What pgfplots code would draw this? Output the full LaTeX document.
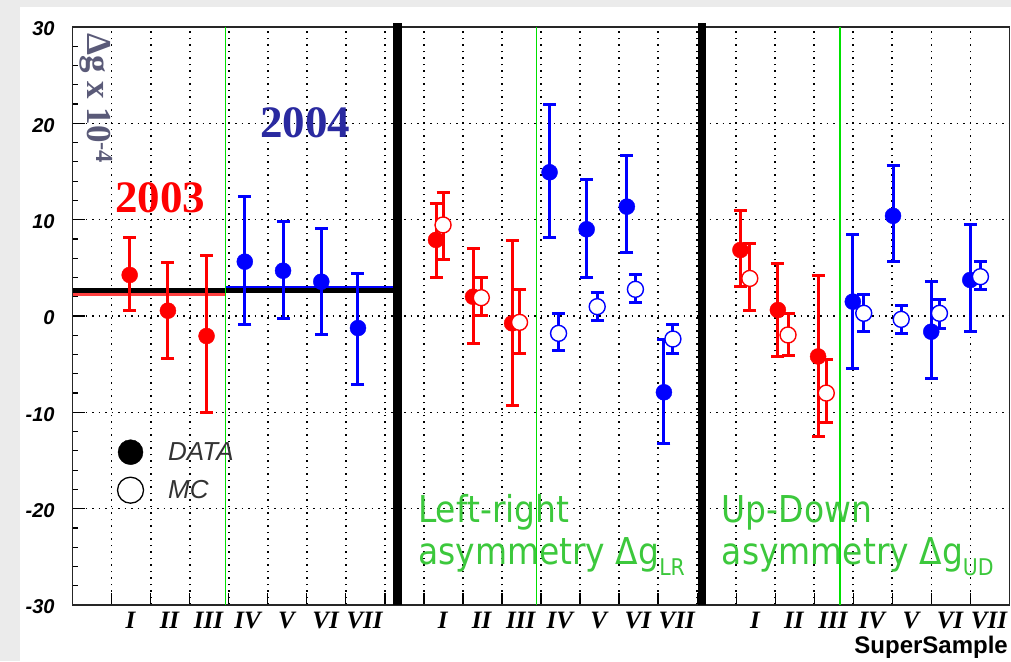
\documentclass[border=0pt]{standalone}
\usepackage{fontspec}
\usepackage{pgfplots}
\pgfplotsset{compat=1.18}
\setmainfont{Liberation Serif}
\newfontfamily\arialf{Liberation Sans}
\newfontfamily\serf{Liberation Serif}
\newfontfamily\dejav{DejaVu Sans}
\definecolor{rred}{RGB}{255,0,0}
\definecolor{rblue}{RGB}{0,0,255}
\definecolor{rgreen}{RGB}{0,225,0}
\definecolor{txtgreen}{RGB}{60,200,60}
\definecolor{navyfour}{RGB}{42,42,160}
\definecolor{labgray}{RGB}{90,90,120}

\pgfplotsset{
  dat/.style={only marks, mark=*, mark size=8pt, color=#1, forget plot,
    error bars/.cd, y dir=both, y explicit,
    error bar style={line width=3pt, color=#1},
    error mark options={rotate=90, mark size=6.5pt, line width=3pt, color=#1}},
  mc/.style={only marks, mark=*, mark size=8pt, color=#1, forget plot,
    mark options={fill=white, draw=#1, line width=1.4pt},
    error bars/.cd, y dir=both, y explicit,
    error bar style={line width=3pt, color=#1},
    error mark options={rotate=90, mark size=6.5pt, line width=3pt, color=#1}},
}

\begin{document}
\begin{tikzpicture}[x=1pt,y=1pt]
\fill[black!8] (0,0) rectangle (1011,661);
\fill[white] (20,0) rectangle (1011,654);

\begin{axis}[
  at={(72.7pt,56pt)}, anchor=south west,
  scale only axis, width=936.6pt, height=578pt,
  xmin=0, xmax=24, ymin=-30, ymax=30,
  clip=false,
  axis line style={line width=1.5pt, black!85},
  xtick={1,2,...,23}, xticklabels={},
  extra x ticks={1.48,2.48,3.48,4.48,5.48,6.48,7.48,9.48,10.48,11.48,12.48,13.48,14.48,15.48,17.48,18.48,19.48,20.48,21.48,22.48,23.48},
  extra x tick labels={I,II,III,IV,V,VI,VII,I,II,III,IV,V,VI,VII,I,II,III,IV,V,VI,VII},
  extra x tick style={grid=none, tick style={draw=none}},
  xticklabel style={font=\serf\bfseries\itshape\fontsize{25}{25}\selectfont, anchor=north, inner sep=0pt, yshift=-7pt},
  ytick={-30,-20,...,30}, yticklabels={-30,-20,-10,0,10,20,30},
  yticklabel style={font=\arialf\bfseries\itshape\fontsize{20}{20}\selectfont, anchor=east, inner sep=0pt, xshift=-18pt, yshift=-2pt},
  minor y tick num=4,
  tick align=inside, xtick pos=bottom, ytick pos=left,
  major tick length=12pt, minor tick length=5pt,
  tick style={line width=1.2pt, black},
  xmajorgrids=true, ymajorgrids=true,
  grid style={line width=1.5pt, black, dash pattern=on 1.5pt off 5pt},
  legend style={at={(axis cs:1.14,-12.82)}, anchor=north west, draw=none, fill=none,
    inner sep=0pt, row sep=12.5pt, font=\arialf\itshape\fontsize{26}{26}\selectfont,
    nodes={inner sep=0pt, text=black!80}},
  legend cell align=left,
  legend image code/.code={\draw[#1] plot coordinates {(12.5pt,0pt)}; \path (0pt,0pt) (49.5pt,0pt);},
]
\addlegendimage{mark=*, black, mark size=12.5pt}
\addlegendentry{DATA}
\addlegendimage{mark=o, black, mark size=13pt, line width=1.3pt}
\addlegendentry{MC}

% mean lines, panel 1
\addplot[red!75, line width=2.7pt, forget plot] coordinates {(0,2.21) (3.92,2.21)};
\addplot[rblue, line width=2.7pt, forget plot] coordinates {(3.92,2.98) (8.32,2.98)};
\addplot[black, line width=4.3pt, forget plot] coordinates {(0,2.65) (8.32,2.65)};

% year separators
\addplot[rgreen, line width=1.5pt, forget plot] coordinates {(3.92,-30) (3.92,30)};
\addplot[rgreen, line width=1.5pt, forget plot] coordinates {(11.88,-30) (11.88,30)};
\addplot[rgreen, line width=1.5pt, forget plot] coordinates {(19.66,-30) (19.66,30)};

% panel separators
\addplot[black, line width=8.5pt, forget plot] coordinates {(8.32,-30) (8.32,30.4)};
\addplot[black, line width=8.5pt, forget plot] coordinates {(16.13,-30) (16.13,30.4)};

% Delta g, 2003 data
\addplot[dat=rred] coordinates {
  (1.46,4.26) += (0,3.91) -= (0,3.64)
  (2.44,0.55) += (0,4.98) -= (0,5.01)
  (3.43,-2.08) += (0,8.34) -= (0,7.96)
};
% Delta g, 2004 data
\addplot[dat=rblue] coordinates {
  (4.41,5.64) += (0,6.74) -= (0,6.57)
  (5.39,4.70) += (0,5.16) -= (0,5.01)
  (6.37,3.56) += (0,5.54) -= (0,5.53)
  (7.31,-1.25) += (0,5.61) -= (0,5.81)
};

% LR and UD, 2003 data
\addplot[dat=rred] coordinates {
  (9.31,7.90) += (0,3.80) -= (0,3.90)
  (10.26,2.00) += (0,4.96) -= (0,4.90)
  (11.26,-0.76) += (0,8.55) -= (0,8.54)
  (17.11,6.85) += (0,4.08) -= (0,3.80)
  (18.07,0.62) += (0,4.88) -= (0,4.82)
  (19.10,-4.20) += (0,8.40) -= (0,8.30)
};
% LR and UD, 2004 data
\addplot[dat=rblue] coordinates {
  (12.22,14.92) += (0,7.06) -= (0,6.79)
  (13.17,9.00) += (0,5.12) -= (0,4.98)
  (14.20,11.35) += (0,5.26) -= (0,4.74)
  (15.15,-7.92) += (0,5.53) -= (0,5.28)
  (19.99,1.49) += (0,7.01) -= (0,6.89)
  (21.02,10.40) += (0,5.20) -= (0,4.70)
  (22.00,-1.63) += (0,5.20) -= (0,4.91)
  (23.00,3.74) += (0,5.71) -= (0,5.37)
};
% LR and UD, 2003 MC
\addplot[mc=rred] coordinates {
  (9.49,9.45) += (0,3.35) -= (0,3.55)
  (10.47,1.90) += (0,2.08) -= (0,1.87)
  (11.45,-0.66) += (0,3.36) -= (0,3.22)
  (17.35,3.90) += (0,3.65) -= (0,3.28)
  (18.33,-1.97) += (0,2.25) -= (0,2.08)
  (19.31,-8.00) += (0,3.45) -= (0,3.10)
};
% LR and UD, 2004 MC
\addplot[mc=rblue] coordinates {
  (12.45,-1.80) += (0,2.08) -= (0,1.83)
  (13.44,0.97) += (0,1.45) -= (0,1.46)
  (14.42,2.77) += (0,1.56) -= (0,1.39)
  (15.38,-2.39) += (0,1.53) -= (0,1.49)
  (20.27,0.28) += (0,2.00) -= (0,1.88)
  (21.23,-0.35) += (0,1.49) -= (0,1.45)
  (22.21,0.28) += (0,1.45) -= (0,1.56)
  (23.26,4.08) += (0,1.62) -= (0,1.38)
};
\end{axis}

% texts
\node[anchor=base west, inner sep=0pt, text=red, font=\serf\bfseries\fontsize{45}{45}\selectfont] at (115,448) {2003};
\node[anchor=base west, inner sep=0pt, text=navyfour, font=\serf\bfseries\fontsize{45}{45}\selectfont] at (260,523) {2004};
\node[anchor=base west, inner sep=0pt, rotate=-90, text=labgray, font=\serf\bfseries\fontsize{35}{35}\selectfont] at (87,628) {Δg x 10\textsuperscript{-4}};

\node[anchor=base west, inner sep=0pt, xscale=0.89, text=txtgreen, font=\dejav\fontsize{37}{37}\selectfont] at (418,138) {Left-right};
\node[anchor=base west, inner sep=0pt, xscale=0.89, text=txtgreen, font=\dejav\fontsize{37}{37}\selectfont] at (418,96) {asymmetry Δg\raisebox{-11pt}{\fontsize{23}{23}\selectfont LR}};
\node[anchor=base west, inner sep=0pt, xscale=0.89, text=txtgreen, font=\dejav\fontsize{37}{37}\selectfont] at (721.7,138) {Up-Down};
\node[anchor=base west, inner sep=0pt, xscale=0.89, text=txtgreen, font=\dejav\fontsize{37}{37}\selectfont] at (721.7,96) {asymmetry Δg\raisebox{-11pt}{\fontsize{23}{23}\selectfont UD}};

\node[anchor=base east, inner sep=0pt, font=\arialf\bfseries\fontsize{24}{24}\selectfont] at (1008,8) {SuperSample};

\pgfresetboundingbox
\useasboundingbox (0,0) rectangle (1011,661);
\end{tikzpicture}
\end{document}
